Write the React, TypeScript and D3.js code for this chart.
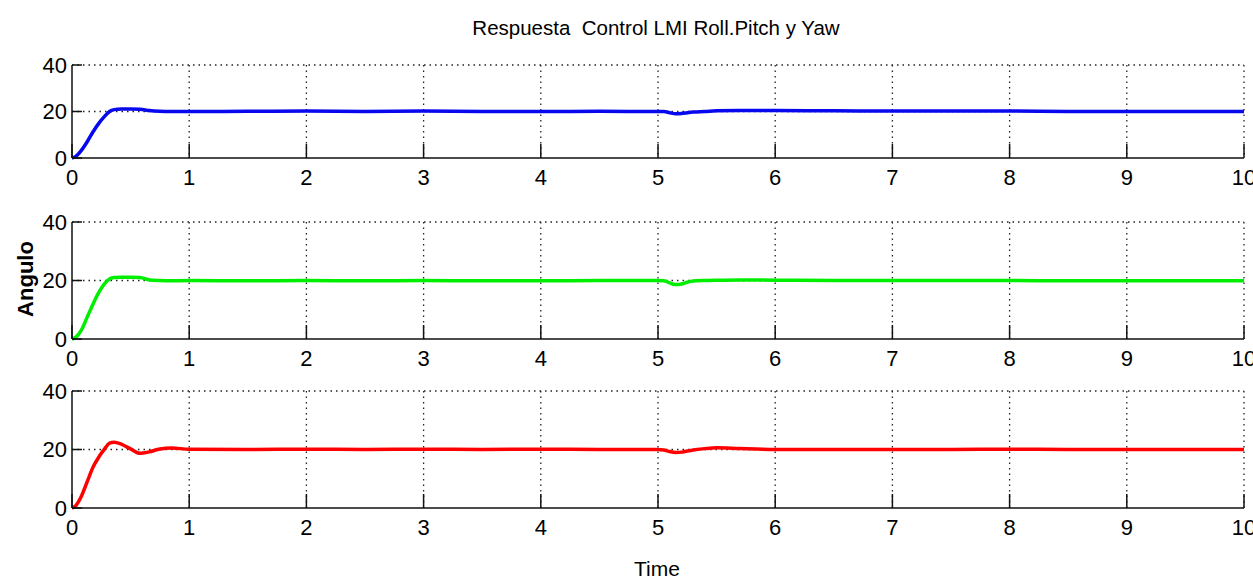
import React, { useRef, useEffect } from "react"
import * as d3 from "d3"

// time samples shared by the three responses
const timePts = [
  0, 0.03, 0.08, 0.13, 0.18, 0.23, 0.28, 0.32, 0.36, 0.42,
  0.5, 0.58, 0.66, 0.75, 0.85, 1, 1.5, 2, 2.5, 3,
  3.5, 4, 4.5, 5, 5.05, 5.1, 5.15, 5.2, 5.25, 5.3,
  5.4, 5.5, 5.7, 6, 6.5, 7, 7.5, 8, 8.5, 9,
  9.5, 10,
]

const rollVals = [
  0, 0.6, 3.3, 7, 11.3, 15, 18, 20, 20.8, 21.1,
  21.1, 21, 20.4, 20.1, 20, 20, 20.1, 20.2, 20, 20.2,
  20, 20, 20.1, 20, 20, 19.5, 19, 19.1, 19.5, 19.8,
  20, 20.3, 20.4, 20.4, 20.3, 20.2, 20.2, 20.2, 20, 20,
  20, 20,
]

const pitchVals = [
  0, 0.5, 3, 7.5, 12, 16, 19, 20.5, 21, 21.1,
  21.1, 21, 20.2, 20, 19.9, 20, 19.9, 20, 19.9, 20,
  19.9, 19.9, 20, 20, 19.9, 19.2, 18.6, 18.8, 19.4, 19.8,
  20, 20.1, 20.2, 20.1, 20, 20, 20, 20, 19.9, 19.9,
  19.9, 19.9,
]

const yawVals = [
  0, 0.7, 4, 9, 14, 17.5, 20.3, 22.2, 22.5, 21.8,
  20.2, 18.7, 19.2, 20.2, 20.5, 20.1, 20, 20.1, 20, 20.1,
  20, 20.1, 20, 20, 19.8, 19.3, 19, 19.1, 19.5, 19.8,
  20.3, 20.6, 20.3, 20, 20, 20, 20, 20.1, 20, 20,
  20, 20,
]

const xTicks = [0, 1, 2, 3, 4, 5, 6, 7, 8, 9, 10]
const yTicks = [0, 20, 40]

const titleText = "Respuesta  Control LMI Roll.Pitch y Yaw"
const xLabel = "Time"
const yLabel = "Angulo"

const W = 1253
const H = 580
const font = "'Liberation Sans', Arial, Helvetica, sans-serif"

const panels = [
  { vals: rollVals, color: "#0808ee", top: 65, bottom: 158 },
  { vals: pitchVals, color: "#00ee00", top: 222, bottom: 339 },
  { vals: yawVals, color: "#ff0000", top: 391, bottom: 508 },
]

function App() {
  const ref = useRef<SVGSVGElement>(null)

  useEffect(() => {
    const svg = d3.select(ref.current)
    svg.selectAll("*").remove()

    const x = d3.scaleLinear().domain([0, 10]).range([72, 1244])

    panels.forEach(p => {
      const y = d3.scaleLinear().domain([0, 40]).range([p.bottom, p.top])
      const g = svg.append("g")

      // dotted grid
      g.selectAll("line.vg")
        .data(xTicks.slice(1))
        .join("line")
        .attr("x1", d => x(d))
        .attr("x2", d => x(d))
        .attr("y1", p.top)
        .attr("y2", p.bottom)
        .attr("stroke", "#222")
        .attr("stroke-width", 1.3)
        .attr("stroke-dasharray", "1.5,4")
      g.selectAll("line.hg")
        .data(yTicks.slice(1))
        .join("line")
        .attr("x1", x(0))
        .attr("x2", x(10))
        .attr("y1", d => y(d))
        .attr("y2", d => y(d))
        .attr("stroke", "#222")
        .attr("stroke-width", 1.3)
        .attr("stroke-dasharray", "1.5,4")

      // curve
      const line = d3
        .line<number>()
        .x((d, i) => x(timePts[i]))
        .y(d => y(d))
        .curve(d3.curveMonotoneX)
      g.append("path")
        .attr("d", line(p.vals))
        .attr("fill", "none")
        .attr("stroke", p.color)
        .attr("stroke-width", 3.5)
        .attr("stroke-linejoin", "round")

      // axes lines
      g.append("line")
        .attr("x1", x(0))
        .attr("x2", x(10))
        .attr("y1", p.bottom)
        .attr("y2", p.bottom)
        .attr("stroke", "#111")
        .attr("stroke-width", 1.5)
      g.append("line")
        .attr("x1", x(0))
        .attr("x2", x(0))
        .attr("y1", p.top)
        .attr("y2", p.bottom)
        .attr("stroke", "#111")
        .attr("stroke-width", 1.5)

      // inward ticks
      g.selectAll("line.xt")
        .data(xTicks)
        .join("line")
        .attr("x1", d => x(d))
        .attr("x2", d => x(d))
        .attr("y1", p.bottom)
        .attr("y2", p.bottom - 14)
        .attr("stroke", "#111")
        .attr("stroke-width", 1.5)
      g.selectAll("line.yt")
        .data(yTicks)
        .join("line")
        .attr("x1", x(0))
        .attr("x2", x(0) + 10)
        .attr("y1", d => y(d))
        .attr("y2", d => y(d))
        .attr("stroke", "#111")
        .attr("stroke-width", 1.5)

      // tick labels
      g.selectAll("text.xl")
        .data(xTicks)
        .join("text")
        .attr("x", d => x(d))
        .attr("y", p.bottom + 27)
        .attr("text-anchor", "middle")
        .attr("font-family", font)
        .attr("font-size", 22)
        .text(d => d)
      g.selectAll("text.yl")
        .data(yTicks)
        .join("text")
        .attr("x", x(0) - 5)
        .attr("y", d => y(d))
        .attr("dy", "0.36em")
        .attr("text-anchor", "end")
        .attr("font-family", font)
        .attr("font-size", 22)
        .text(d => d)
    })

    svg.append("text")
      .attr("x", 656)
      .attr("y", 35)
      .attr("text-anchor", "middle")
      .attr("font-family", font)
      .attr("font-size", 20.5)
      .style("white-space", "pre")
      .text(titleText)

    svg.append("text")
      .attr("x", 657)
      .attr("y", 576)
      .attr("text-anchor", "middle")
      .attr("font-family", font)
      .attr("font-size", 21)
      .text(xLabel)

    svg.append("text")
      .attr("transform", "translate(33,279) rotate(-90)")
      .attr("text-anchor", "middle")
      .attr("font-family", font)
      .attr("font-weight", "bold")
      .attr("font-size", 22)
      .text(yLabel)
  }, [])

  return (
    <div style={{ position: "absolute", left: 0, top: 0, background: "#fff" }}>
      <svg ref={ref} width={W} height={H}></svg>
    </div>
  )
}

export default App
